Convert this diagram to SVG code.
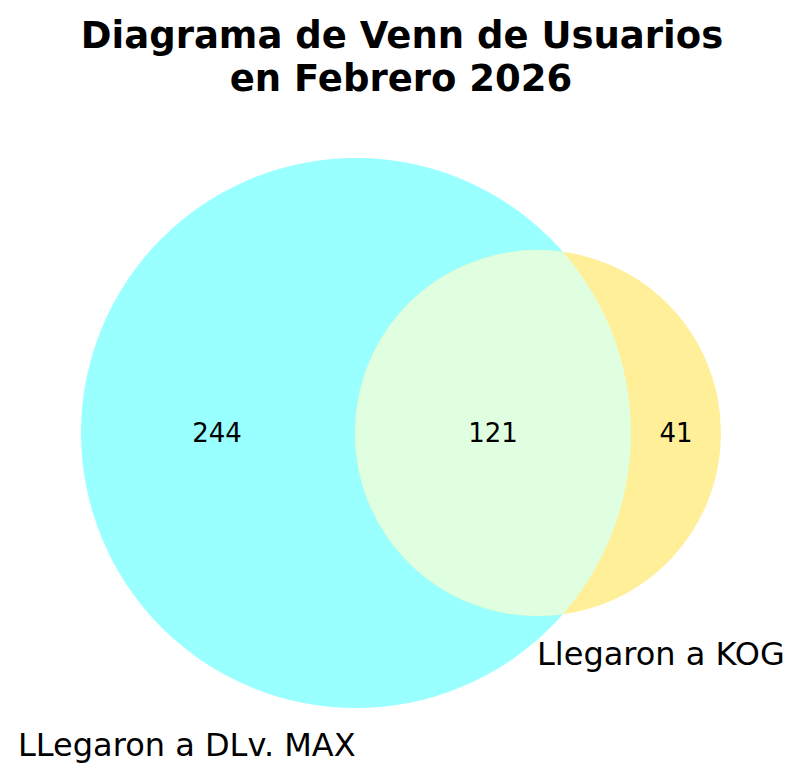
<svg xmlns="http://www.w3.org/2000/svg" width="804" height="782" viewBox="0 0 804 782">
<style>
.t{font-family:"DejaVu Sans",sans-serif;fill:#000}
.title{font-size:37px;font-weight:bold;text-anchor:middle}
.num{font-size:26px;text-anchor:middle}
.lab{font-size:32px}
</style>
<rect width="804" height="782" fill="#fff"/>
<defs>
<clipPath id="clipA"><circle cx="356" cy="433" r="275"/></clipPath>
</defs>
<g id="title"><text class="t title" x="402" y="48">Diagrama de Venn de Usuarios</text><text class="t title" x="401" y="91">en Febrero 2026</text></g>
<g id="setA"><circle cx="356" cy="433" r="275" fill="#99ffff"/></g>
<g id="setB"><circle cx="538" cy="433" r="183" fill="#ffef99"/></g>
<g id="intersection"><circle cx="538" cy="433" r="183" fill="#e0ffe0" clip-path="url(#clipA)"/></g>
<g id="labels">
<text class="t num" x="217" y="442">244</text>
<text class="t num" x="493" y="442">121</text>
<text class="t num" x="676" y="442">41</text>
<text class="t lab" x="537" y="665">Llegaron a KOG</text>
<text class="t lab" x="18" y="756">LLegaron a DLv. MAX</text>
</g>
<g id="connectors"/>
</svg>
